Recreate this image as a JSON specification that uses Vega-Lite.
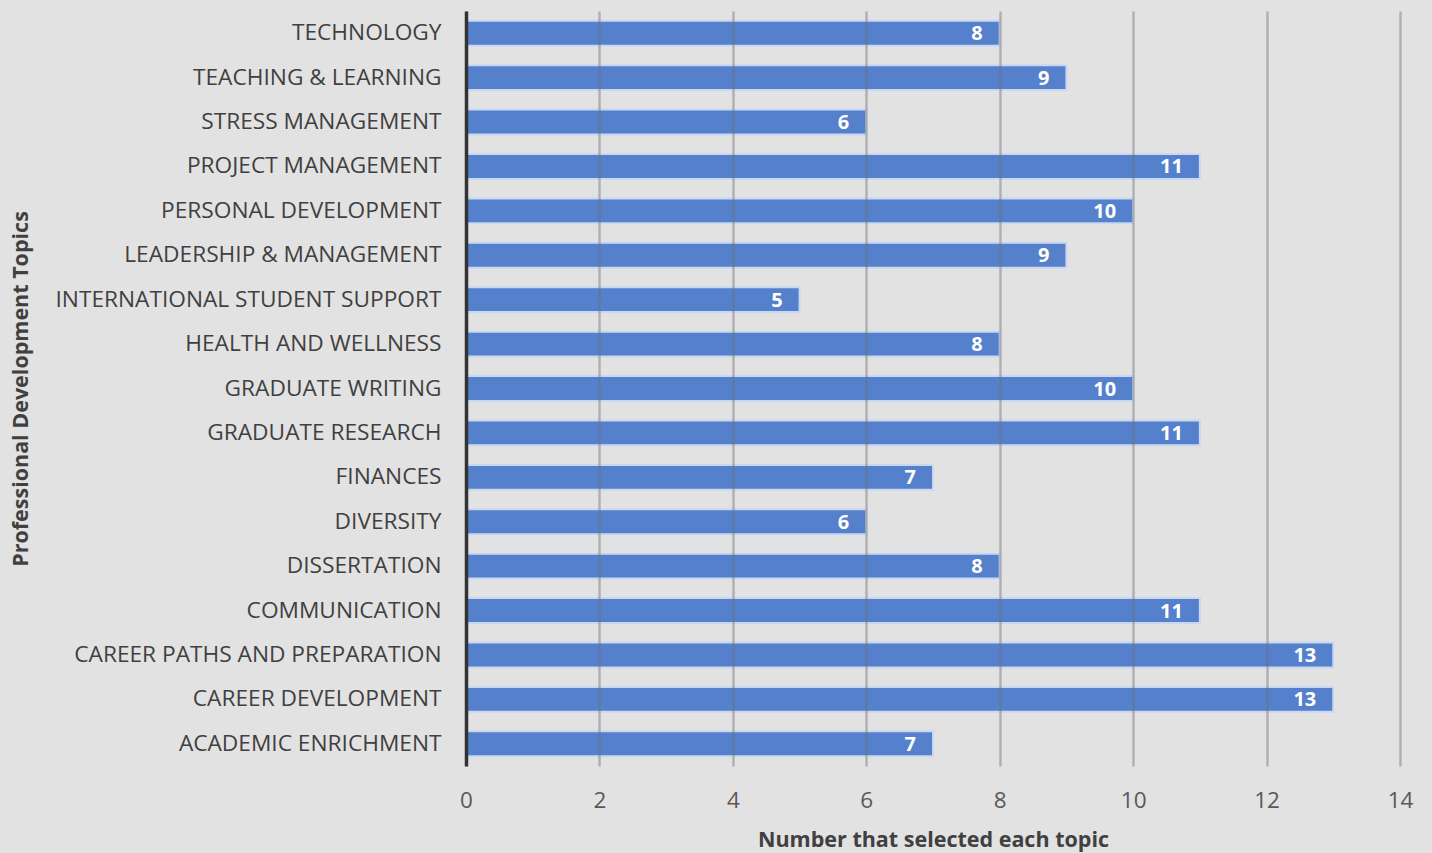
{
  "$schema": "https://vega.github.io/schema/vega-lite/v6.json",
  "autosize": "none",
  "width": 934,
  "height": 755,
  "padding": {"left": 466, "top": 11, "right": 32, "bottom": 87},
  "background": "#e2e2e2",
  "config": {
    "view": {"stroke": null},
    "font": "Open Sans"
  },
  "data": {
    "values": [
      {"topic": "TECHNOLOGY", "count": 8},
      {"topic": "TEACHING & LEARNING", "count": 9},
      {"topic": "STRESS MANAGEMENT", "count": 6},
      {"topic": "PROJECT MANAGEMENT", "count": 11},
      {"topic": "PERSONAL DEVELOPMENT", "count": 10},
      {"topic": "LEADERSHIP & MANAGEMENT", "count": 9},
      {"topic": "INTERNATIONAL STUDENT SUPPORT", "count": 5},
      {"topic": "HEALTH AND WELLNESS", "count": 8},
      {"topic": "GRADUATE WRITING", "count": 10},
      {"topic": "GRADUATE RESEARCH", "count": 11},
      {"topic": "FINANCES", "count": 7},
      {"topic": "DIVERSITY", "count": 6},
      {"topic": "DISSERTATION", "count": 8},
      {"topic": "COMMUNICATION", "count": 11},
      {"topic": "CAREER PATHS AND PREPARATION", "count": 13},
      {"topic": "CAREER DEVELOPMENT", "count": 13},
      {"topic": "ACADEMIC ENRICHMENT", "count": 7}
    ]
  },
  "encoding": {
    "y": {
      "field": "topic",
      "type": "nominal",
      "sort": null,
      "scale": {"paddingInner": 0.44, "paddingOuter": 0.22},
      "axis": {
        "title": "Professional Development Topics",
        "titleFontSize": 21.5,
        "titleFontWeight": "bold",
        "titleColor": "#404040",
        "titleX": -434,
        "labelFontSize": 22.7,
        "labelColor": "#404040",
        "labelPadding": 25,
        "labelLimit": 600,
        "ticks": false,
        "domainColor": "#333333",
        "domainWidth": 3.5,
        "zindex": 2
      }
    },
    "x": {
      "field": "count",
      "type": "quantitative",
      "scale": {"domain": [0, 14], "nice": false},
      "axis": {
        "title": "Number that selected each topic",
        "titleFontSize": 21.5,
        "titleFontWeight": "bold",
        "titleColor": "#404040",
        "titleY": 63,
        "titleBaseline": "top",
        "values": [0, 2, 4, 6, 8, 10, 12, 14],
        "labelFontSize": 22.5,
        "labelColor": "#595959",
        "labelPadding": 23,
        "labelFlush": false,
        "ticks": false,
        "domain": false,
        "grid": true,
        "gridColor": "#6e6e6e",
        "gridWidth": 2.5,
        "gridOpacity": 0.42,
        "zindex": 1
      }
    }
  },
  "layer": [
    {
      "mark": {"type": "bar", "color": "#5580cc", "stroke": "#c9d8f2", "strokeWidth": 2}
    },
    {
      "mark": {"type": "text", "align": "right", "dx": -17, "dy": 1, "color": "white", "fontWeight": "bold", "fontSize": 20},
      "encoding": {"text": {"field": "count", "type": "quantitative"}}
    }
  ]
}
